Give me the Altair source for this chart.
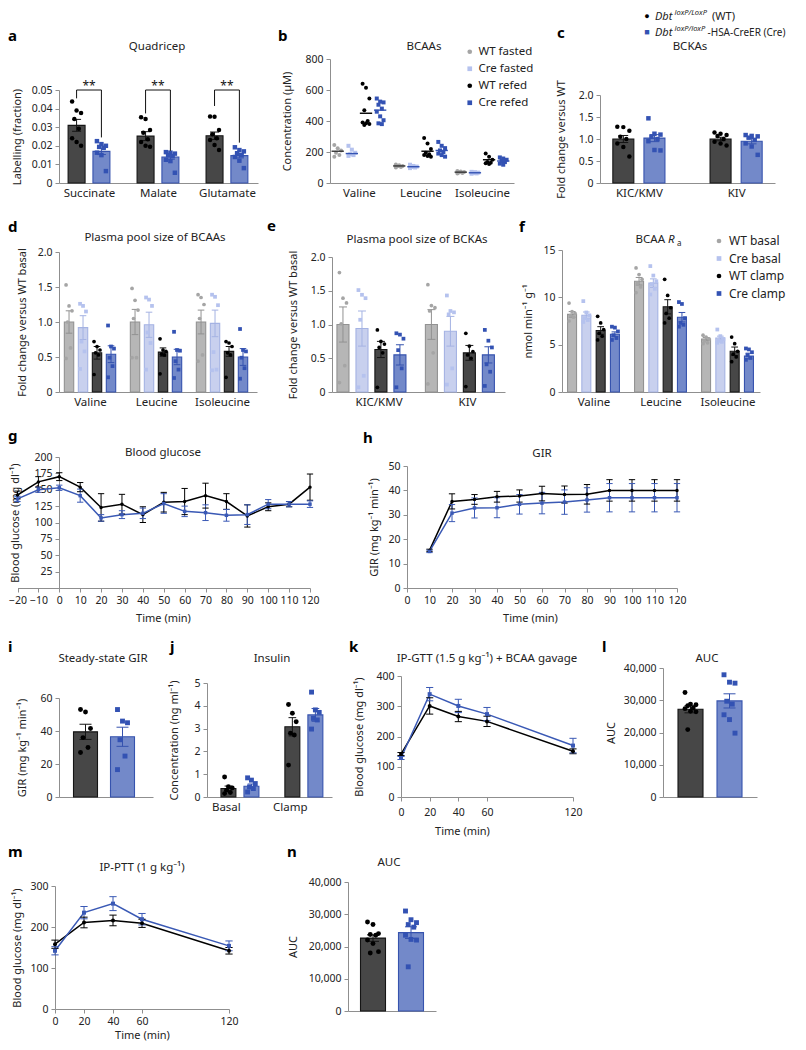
import altair as alt
import pandas as pd

# ===================== DATA =====================
# a  Quadricep labelling
a_categories = ["Succinate", "Malate", "Glutamate"]
a_wt_mean = [0.0310, 0.0252, 0.0254]
a_wt_sem = [0.0032, 0.0024, 0.0020]
a_cre_mean = [0.0170, 0.0140, 0.0147]
a_cre_sem = [0.0017, 0.0012, 0.0012]
a_wt_points = [
    [0.0438, 0.0390, 0.0376, 0.0344, 0.0292, 0.0240, 0.0221, 0.0200],
    [0.0353, 0.0344, 0.0285, 0.0270, 0.0235, 0.0220, 0.0200, 0.0195],
    [0.0357, 0.0356, 0.0285, 0.0262, 0.0240, 0.0231, 0.0204, 0.0177],
]
a_cre_points = [
    [0.0225, 0.0209, 0.0200, 0.0194, 0.0189, 0.0163, 0.0150, 0.0064],
    [0.0166, 0.0163, 0.0158, 0.0150, 0.0145, 0.0125, 0.0118, 0.0055],
    [0.0192, 0.0177, 0.0170, 0.0160, 0.0150, 0.0140, 0.0120, 0.0080],
]
a_bracket_top = [0.050, 0.050, 0.050]
a_bracket_left = [0.0455, 0.0374, 0.0414]
a_bracket_right = [0.0245, 0.0173, 0.0217]
a_stars = ["**", "**", "**"]

# b  BCAAs
b_categories = ["Valine", "Leucine", "Isoleucine"]
b_groups = ["WT fasted", "Cre fasted", "WT refed", "Cre refed"]
b_means = [[205, 110, 70], [190, 105, 66], [450, 205, 150], [470, 210, 142]]
b_points = [
    [[245, 225, 210, 195, 180, 170], [120, 115, 110, 108, 104, 100], [78, 75, 71, 68, 65, 62]],
    [[240, 215, 195, 185, 180, 175], [118, 110, 106, 103, 100, 96], [72, 70, 67, 64, 62, 60]],
    [[640, 615, 545, 470, 400, 390, 385, 380, 375], [290, 255, 220, 195, 185, 180, 175, 170],
     [190, 170, 150, 135, 128, 122, 130]],
    [[545, 525, 520, 505, 480, 460, 430, 405, 385, 380], [265, 240, 225, 210, 200, 190, 180, 170],
     [165, 158, 150, 142, 135, 125, 118]],
]

# c  BCKAs
c_categories = ["KIC/KMV", "KIV"]
c_wt_mean = [1.00, 1.00]
c_wt_sem = [0.08, 0.04]
c_cre_mean = [1.02, 0.95]
c_cre_sem = [0.08, 0.06]
c_wt_points = [[1.28, 1.27, 1.19, 1.05, 1.00, 0.90, 0.82, 0.60],
               [1.15, 1.12, 1.09, 1.07, 1.00, 0.94, 0.90, 0.85]]
c_cre_points = [[1.47, 1.12, 1.10, 1.05, 1.00, 0.95, 0.75, 0.74],
                [1.09, 1.07, 1.06, 1.03, 0.98, 0.90, 0.83, 0.64]]

# d  Plasma pool size of BCAAs
d_categories = ["Valine", "Leucine", "Isoleucine"]
d_groups = ["WT basal", "Cre basal", "WT clamp", "Cre clamp"]
d_means = [[1.00, 1.00, 1.00], [0.92, 0.96, 0.98], [0.56, 0.57, 0.58], [0.54, 0.50, 0.50]]
d_sems = [[0.16, 0.18, 0.17], [0.17, 0.18, 0.19], [0.09, 0.06, 0.07], [0.12, 0.11, 0.12]]
d_points = [
    [[1.53, 1.23, 1.16, 1.00, 0.63, 0.48], [1.48, 1.31, 1.17, 1.05, 0.49, 0.49], [1.39, 1.35, 1.25, 1.05, 0.53, 0.44]],
    [[1.26, 1.23, 1.15, 0.72, 0.58, 0.33], [1.35, 1.32, 1.23, 0.85, 0.70, 0.32], [1.39, 1.36, 1.24, 0.57, 0.32, 0.31]],
    [[0.72, 0.65, 0.60, 0.56, 0.53, 0.25], [0.76, 0.60, 0.58, 0.54, 0.53, 0.26], [0.72, 0.70, 0.65, 0.56, 0.53, 0.21]],
    [[0.95, 0.65, 0.62, 0.49, 0.37, 0.21], [0.86, 0.60, 0.59, 0.44, 0.32, 0.20], [0.90, 0.60, 0.58, 0.49, 0.34, 0.19]],
]

# e  Plasma pool size of BCKAs
e_categories = ["KIC/KMV", "KIV"]
e_means = [[1.00, 1.00], [0.94, 0.90], [0.63, 0.58], [0.55, 0.55]]
e_sems = [[0.26, 0.22], [0.26, 0.22], [0.12, 0.11], [0.15, 0.12]]
e_points = [
    [[1.77, 1.39, 1.32, 1.01, 0.39, 0.14], [1.59, 1.28, 1.25, 1.20, 0.58, 0.12]],
    [[1.51, 1.44, 1.39, 1.07, 0.24, 0.07], [1.43, 1.20, 1.18, 1.15, 0.35, 0.11]],
    [[0.92, 0.75, 0.71, 0.66, 0.58, 0.07], [0.87, 0.68, 0.60, 0.55, 0.50, 0.08]],
    [[0.87, 0.85, 0.79, 0.62, 0.35, 0.07], [0.92, 0.76, 0.66, 0.41, 0.30, 0.09]],
]

# f  BCAA Ra
f_means = [[8.2, 11.7, 5.6], [8.1, 11.5, 5.7], [6.5, 9.0, 4.3], [6.1, 7.9, 3.8]]
f_sems = [[0.3, 0.4, 0.15], [0.35, 0.45, 0.2], [0.4, 0.75, 0.45], [0.25, 0.5, 0.3]]
f_points = [
    [[9.4, 8.5, 8.3, 8.1, 7.9, 7.5], [13.1, 12.4, 11.9, 11.5, 11.1, 10.5], [6.0, 5.8, 5.6, 5.4, 5.2, 5.1]],
    [[9.6, 8.4, 8.1, 7.8, 7.6, 7.4], [13.3, 12.3, 11.7, 11.4, 10.9, 10.3], [6.6, 5.9, 5.6, 5.4, 5.3, 5.2]],
    [[8.0, 7.3, 6.6, 6.2, 5.9, 5.5], [11.9, 10.2, 8.9, 8.3, 7.8, 7.3], [5.8, 5.1, 4.3, 4.0, 3.7, 3.2]],
    [[6.9, 6.8, 6.4, 6.0, 5.7, 5.5], [9.5, 9.3, 7.8, 7.3, 7.1, 6.9], [4.6, 4.5, 4.2, 3.9, 3.6, 3.4]],
]

# g  Blood glucose (clamp)
g_time = [-20, -10, 0, 10, 20, 30, 40, 50, 60, 70, 80, 90, 100, 110, 120]
g_wt_mean = [142, 162, 170, 154, 123, 128, 112, 131, 132, 141, 132, 110, 124, 128, 154]
g_wt_sem = [6, 8, 6, 7, 21, 15, 12, 15, 20, 19, 12, 17, 6, 4, 20]
g_cre_mean = [136, 150, 153, 141, 107, 112, 114, 129, 117, 115, 111, 112, 128, 128, 128]
g_cre_sem = [4, 4, 4, 10, 5, 6, 8, 15, 8, 12, 9, 15, 7, 4, 5]

# h  GIR
h_time = [10, 20, 30, 40, 50, 60, 70, 80, 90, 100, 110, 120]
h_wt_mean = [15.4, 35.5, 36.3, 37.4, 37.7, 38.7, 38.3, 38.4, 40.0, 40.0, 40.0, 40.0]
h_wt_sem = [0.5, 3.1, 2.0, 2.2, 2.5, 3.0, 3.5, 4.0, 4.4, 4.4, 4.4, 4.4]
h_cre_mean = [15.0, 30.7, 32.8, 32.9, 34.3, 34.8, 35.2, 36.1, 37.0, 37.0, 37.0, 37.0]
h_cre_sem = [0.5, 3.5, 4.1, 4.1, 4.0, 4.4, 5.0, 5.0, 5.8, 5.8, 5.8, 5.8]

# i  Steady-state GIR
i_wt_mean, i_wt_sem = [39.5], [4.6]
i_cre_mean, i_cre_sem = [36.5], [5.8]
i_wt_points = [[53.0, 51.5, 41.5, 36.0, 30.0, 27.0]]
i_cre_points = [[53.0, 46.0, 45.0, 34.7, 24.8, 16.6]]

# j  Insulin
j_categories = ["Basal", "Clamp"]
j_wt_mean, j_wt_sem = [0.37, 3.08], [0.11, 0.40]
j_cre_mean, j_cre_sem = [0.47, 3.60], [0.10, 0.28]
j_wt_points = [[0.88, 0.45, 0.40, 0.30, 0.20, 0.15], [4.06, 3.67, 3.30, 2.80, 2.72, 1.40]]
j_cre_points = [[0.84, 0.74, 0.59, 0.44, 0.37, 0.22], [4.60, 3.82, 3.71, 3.45, 3.38, 2.98]]

# k  IP-GTT + BCAA gavage
k_time = [0, 20, 40, 60, 120]
k_wt_mean, k_wt_sem = [142, 301, 266, 250, 151], [5, 27, 17, 17, 8]
k_cre_mean, k_cre_sem = [129, 340, 301, 274, 170], [5, 22, 22, 22, 24]

# l  AUC (GTT)
l_wt_mean, l_wt_sem = [27200], [1100]
l_cre_mean, l_cre_sem = [29800], [2200]
l_wt_points = [[32400, 28800, 28600, 28300, 27600, 27400, 26600, 26400, 20900]]
l_cre_points = [[37900, 35600, 35300, 29700, 28800, 25500, 24000, 19800]]

# m  IP-PTT
m_time = [0, 20, 40, 60, 120]
m_wt_mean, m_wt_sem = [158, 211, 216, 209, 142], [10, 13, 13, 10, 8]
m_cre_mean, m_cre_sem = [142, 235, 257, 219, 154], [10, 15, 17, 14, 12]

# n  AUC (PTT)
n_wt_mean, n_wt_sem = [22600], [1000]
n_cre_mean, n_cre_sem = [24300], [1800]
n_wt_points = [[27600, 26800, 24000, 23700, 23500, 22000, 20900, 18400, 18000]]
n_cre_points = [[31000, 28300, 27400, 26800, 26000, 23500, 22200, 22000, 13700]]

# ===================== STYLE / LAYOUT =====================
W, H = 790, 1034
FONT = "Noto Sans"
INK = "#222222"
AXC = "#8f8f8f"

DARK = ("#474747", "#151515", "#000000", "circle")
BLUE = ("#7389c9", "#3653ae", "#3352b3", "square")
GREY = ("#b6b6b6", "#929292", "#a5a5a5", "circle")
LBLUE = ("#c8d0ee", "#a5b3e3", "#b5c2ee", "square")
STYLE = {"WT": DARK, "Cre": BLUE, "WT fasted": GREY, "Cre fasted": LBLUE,
         "WT refed": DARK, "Cre refed": BLUE, "WT basal": GREY, "Cre basal": LBLUE,
         "WT clamp": DARK, "Cre clamp": BLUE}


def PX(p):
    return max(p, 8) - 8


def PY(p):
    return max(p, 8) - 8


def sc(groups, idx):
    return alt.Scale(domain=list(groups), range=[STYLE[g][idx] for g in groups])


def sci(groups, idx):
    # index-keyed scale (kept apart from the legend-bearing colour scale)
    return alt.Scale(domain=list(range(len(groups))), range=[STYLE[g][idx] for g in groups])


def lin(d, r):
    return alt.Scale(domain=list(d), range=list(r), nice=False, zero=False)


LBL1 = "datum.value == 0 ? '0' : format(datum.value, '.1f')"
LBL2 = "datum.value == 0 ? '0' : format(datum.value, '.2f')"


def bar_panel(cats, groups, means, sems, points, *, xr, xd, yr, yd, yticks, ytitle, ytp,
              offsets, halfw, cap, jit, psize=20, ylabel=None, yfmt=None, bars=True,
              cat_labels=True, label_shift=0.0, legend=None, mean_half=None, mean_colors=None,
              extra=None):
    xs = lin(xd, (PX(xr[0]), PX(xr[1])))
    ys = lin(yd, (PY(yr[0]), PY(yr[1])))
    summ = pd.DataFrame([{"g": g, "gi": gi, "ci": ci, "m": means[gi][ci],
                          "s": (sems[gi][ci] if sems else 0.0)}
                         for gi, g in enumerate(groups) for ci in range(len(cats))])
    pts = pd.DataFrame([{"g": g, "gi": gi, "ci": ci, "k": k, "v": v}
                        for gi, g in enumerate(groups) for ci in range(len(cats))
                        for k, v in enumerate(sorted(points[gi][ci], reverse=True))])
    pos = "datum.ci + 0.5 + [" + ",".join(str(o) for o in offsets) + "][datum.gi]"
    xa = dict(orient="bottom", offset=PY(yr[0]) - H,
              values=[i + 0.5 + label_shift for i in range(len(cats))],
              ticks=False, title=None, labelFontSize=11.5, labelPadding=4)
    if cat_labels:
        xa["labelExpr"] = "[" + ",".join("'" + c + "'" for c in cats) + "][floor(datum.value)]"
    else:
        xa["labels"] = False
    ya = dict(orient="left", offset=-PX(xr[0]), values=yticks, title=ytitle, titlePadding=ytp)
    if ylabel:
        ya["labelExpr"] = ylabel
    if yfmt:
        ya["format"] = yfmt
    XA, YA = alt.Axis(**xa), alt.Axis(**ya)

    def X(f):
        return alt.X(f, scale=xs, axis=XA)

    def Y(f):
        return alt.Y(f, scale=ys, axis=YA)

    fill_s, edge_s = sci(groups, 0), sci(groups, 1)
    pt_s, shp_s = sc(groups, 2), sc(groups, 3)
    layers = []
    s_base = alt.Chart(summ).transform_calculate(pos=pos)
    if bars:
        layers.append(
            s_base.transform_calculate(x1=f"datum.pos - {halfw}", x2=f"datum.pos + {halfw}")
            .mark_rect(strokeWidth=1.1)
            .encode(x=X("x1:Q"), x2=alt.X2("x2"), y=Y("m:Q"), y2=alt.datum(0),
                    fill=alt.Fill("gi:N", scale=fill_s, legend=None),
                    stroke=alt.Stroke("gi:N", scale=edge_s, legend=None)))
    if sems:
        eb = s_base.transform_calculate(lo="datum.m - datum.s", hi="datum.m + datum.s")
        layers.append(
            eb.mark_rule(strokeWidth=1)
            .encode(x=X("pos:Q"), y=Y("lo:Q"), y2=alt.Y2("hi"),
                    stroke=alt.Stroke("gi:N", scale=edge_s, legend=None)))
        layers.append(
            eb.transform_calculate(c1=f"datum.pos - {cap}", c2=f"datum.pos + {cap}")
            .transform_fold(["lo", "hi"], as_=["end", "yy"])
            .mark_rule(strokeWidth=1)
            .encode(x=X("c1:Q"), x2=alt.X2("c2"), y=Y("yy:Q"),
                    stroke=alt.Stroke("gi:N", scale=edge_s, legend=None)))
    layers.append(
        alt.Chart(pts).transform_calculate(pos=pos)
        .transform_calculate(px=f"datum.pos + ((((datum.k * 7) % 5) - 2) / 2) * {jit}")
        .mark_point(filled=True, size=psize, opacity=1)
        .encode(x=X("px:Q"), y=Y("v:Q"),
                color=alt.Color("g:N", scale=pt_s, legend=legend),
                shape=alt.Shape("g:N", scale=shp_s, legend=legend)))
    if mean_half:
        layers.append(
            s_base.transform_calculate(c1=f"datum.pos - {mean_half}", c2=f"datum.pos + {mean_half}")
            .mark_rule(strokeWidth=1.4)
            .encode(x=X("c1:Q"), x2=alt.X2("c2"), y=Y("m:Q"),
                    stroke=alt.Stroke("gi:N", scale=alt.Scale(domain=list(range(len(groups))),
                                                              range=mean_colors), legend=None)))
    if extra:
        layers += extra(X, Y)
    return alt.layer(*layers)


def a_brackets(X, Y):
    df = pd.DataFrame({"ci": list(range(len(a_categories))), "top": a_bracket_top,
                       "l": a_bracket_left, "r": a_bracket_right, "star": a_stars})
    b = alt.Chart(df).transform_calculate(xl="datum.ci + 0.5 - 0.18", xr="datum.ci + 0.5 + 0.18",
                                          xc="datum.ci + 0.5")
    rl = dict(color="#111111", strokeWidth=1)
    return [
        b.mark_rule(**rl).encode(x=X("xl:Q"), y=Y("l:Q"), y2=alt.Y2("top")),
        b.mark_rule(**rl).encode(x=X("xr:Q"), y=Y("r:Q"), y2=alt.Y2("top")),
        b.mark_rule(**rl).encode(x=X("xl:Q"), x2=alt.X2("xr"), y=Y("top:Q")),
        b.mark_text(fontSize=12, baseline="alphabetic", color="#111111", font=FONT)
        .encode(x=X("xc:Q"), y=Y("top:Q"), text="star:N"),
    ]


def line_panel(times, groups, means, sems, *, xr, xd, xticks, yr, yd, yticks, yaxis_x, ytitle,
               ytp, xtitle, xtitle_x, xtp, xlp, cap, psize=12):
    xs = lin(xd, (PX(xr[0]), PX(xr[1])))
    ys = lin(yd, (PY(yr[0]), PY(yr[1])))
    df = pd.DataFrame([{"g": g, "t": t, "m": means[gi][i], "s": sems[gi][i]}
                       for gi, g in enumerate(groups) for i, t in enumerate(times)])
    col = alt.Scale(domain=list(groups), range=["#000000", "#3a59b5"])
    shp = alt.Scale(domain=list(groups), range=["circle", "square"])
    XA = alt.Axis(orient="bottom", offset=PY(yr[0]) - H, values=xticks, format="d",
                  title=xtitle, titleX=PX(xtitle_x), titlePadding=xtp, labelPadding=xlp)
    YA = alt.Axis(orient="left", offset=-PX(yaxis_x), values=yticks, format="d",
                  title=ytitle, titlePadding=ytp)

    def X(f):
        return alt.X(f, scale=xs, axis=XA)

    def Y(f):
        return alt.Y(f, scale=ys, axis=YA)

    base = alt.Chart(df)
    eb = base.transform_calculate(lo="datum.m - datum.s", hi="datum.m + datum.s")
    C = alt.Color("g:N", scale=col, legend=None)
    return alt.layer(
        base.mark_line(strokeWidth=1.5).encode(x=X("t:Q"), y=Y("m:Q"), color=C),
        eb.mark_rule(strokeWidth=1).encode(x=X("t:Q"), y=Y("lo:Q"), y2=alt.Y2("hi"), color=C),
        eb.transform_calculate(c1=f"datum.t - {cap}", c2=f"datum.t + {cap}")
        .transform_fold(["lo", "hi"], as_=["end", "yy"])
        .mark_rule(strokeWidth=1).encode(x=X("c1:Q"), x2=alt.X2("c2"), y=Y("yy:Q"), color=C),
        base.mark_point(filled=True, size=psize, opacity=1).encode(
            x=X("t:Q"), y=Y("m:Q"), color=C, shape=alt.Shape("g:N", scale=shp, legend=None)),
    )


def txt(s, x, y, size=11.5, weight="normal", style="normal", align="center", color=INK,
        baseline="alphabetic"):
    return alt.Chart(pd.DataFrame({"t": [s]})).mark_text(
        font=FONT, fontSize=size, fontWeight=weight, fontStyle=style, align=align,
        baseline=baseline, color=color).encode(x=alt.value(PX(x)), y=alt.value(PY(y)), text="t:N")


# ===================== PANELS =====================
WTCRE = ["WT", "Cre"]

pa = bar_panel(a_categories, WTCRE, [a_wt_mean, a_cre_mean], [a_wt_sem, a_cre_sem],
               [a_wt_points, a_cre_points], xr=(59, 258), xd=(0.065, 2.95), yr=(183, 90),
               yd=(0, 0.05), yticks=[0, 0.01, 0.02, 0.03, 0.04, 0.05], ylabel=LBL2,
               ytitle="Labelling (fraction)", ytp=9, offsets=[-0.18, 0.18], halfw=0.123,
               cap=0.065, jit=0.065, psize=20, extra=a_brackets)

b_legend = alt.Legend(orient="none", legendX=PX(464), legendY=PY(46), title=None,
                      labelFontSize=11.5, labelColor=INK, labelFont=FONT, symbolSize=22,
                      rowPadding=4, padding=0, labelOffset=3, symbolStrokeWidth=0)
pb = bar_panel(b_categories, b_groups, b_means, None, b_points, xr=(330, 514), xd=(0.03, 3.02),
               yr=(183, 59), yd=(0, 800), yticks=[0, 200, 400, 600, 800], yfmt="d",
               ytitle="Concentration (µM)", ytp=12, offsets=[-0.345, -0.115, 0.115, 0.345],
               halfw=0, cap=0, jit=0.055, psize=16, bars=False, legend=b_legend, mean_half=0.1,
               mean_colors=["#333333", "#3352b3", "#000000", "#3352b3"])

pc = bar_panel(c_categories, WTCRE, [c_wt_mean, c_cre_mean], [c_wt_sem, c_cre_sem],
               [c_wt_points, c_cre_points], xr=(600, 775), xd=(0.1, 1.9), yr=(183, 95),
               yd=(0, 2), yticks=[0, 0.5, 1, 1.5, 2], ylabel=LBL1, ytitle="Fold change versus WT",
               ytp=12, offsets=[-0.16, 0.16], halfw=0.108, cap=0.05, jit=0.062, psize=20)

pd_ = bar_panel(d_categories, d_groups, d_means, d_sems, d_points, xr=(59, 257), xd=(0.03, 3.03),
                yr=(392, 252), yd=(0, 2), yticks=[0, 0.5, 1, 1.5, 2], ylabel=LBL1,
                ytitle="Fold change versus WT basal", ytp=10,
                offsets=[-0.318, -0.106, 0.106, 0.318], halfw=0.071, cap=0.05, jit=0.045, psize=14)

pe = bar_panel(e_categories, d_groups, e_means, e_sems, e_points, xr=(332, 505), xd=(0.054, 2.01),
               yr=(392, 257), yd=(0, 2), yticks=[0, 0.5, 1, 1.5, 2], ylabel=LBL1,
               ytitle="Fold change versus WT basal", ytp=11.5,
               offsets=[-0.322, -0.107, 0.107, 0.322], halfw=0.068, cap=0.045, jit=0.04, psize=14,
               label_shift=0.08)

f_legend = alt.Legend(orient="none", legendX=PX(713), legendY=PY(235), title=None,
                      labelFontSize=12, labelColor=INK, labelFont=FONT, symbolSize=22,
                      rowPadding=5.5, padding=0, labelOffset=4, symbolStrokeWidth=0)
pf = bar_panel(d_categories, d_groups, f_means, f_sems, f_points, xr=(562, 760), xd=(0.03, 2.985),
               yr=(392, 250), yd=(0, 15), yticks=[0, 5, 10, 15], yfmt="d",
               ytitle="nmol min⁻¹ g⁻¹", ytp=9.5, offsets=[-0.32, -0.107, 0.107, 0.32],
               halfw=0.067, cap=0.05, jit=0.045, psize=14, legend=f_legend)

pg = line_panel(g_time, WTCRE, [g_wt_mean, g_cre_mean], [g_wt_sem, g_cre_sem], xr=(17.5, 310),
                xd=(-20, 120), xticks=list(range(-20, 121, 10)), yr=(588, 457), yd=(0, 200),
                yticks=list(range(25, 201, 25)), yaxis_x=59, ytitle="Blood glucose (mg dl⁻¹)",
                ytp=13, xtitle="Time (min)", xtitle_x=163, xtp=7, xlp=3, cap=1.5)

ph = line_panel(h_time, WTCRE, [h_wt_mean, h_cre_mean], [h_wt_sem, h_cre_sem], xr=(407, 677),
                xd=(0, 120), xticks=list(range(0, 121, 10)), yr=(588, 466), yd=(0, 50),
                yticks=list(range(0, 51, 10)), yaxis_x=407, ytitle="GIR (mg kg⁻¹ min⁻¹)",
                ytp=8.5, xtitle="Time (min)", xtitle_x=530, xtp=7, xlp=3, cap=1.4)

pi = bar_panel([""], WTCRE, [i_wt_mean, i_cre_mean], [i_wt_sem, i_cre_sem],
               [i_wt_points, i_cre_points], xr=(59, 153), xd=(0.05, 0.99), yr=(797, 698),
               yd=(0, 60), yticks=[0, 20, 40, 60], yfmt="d", ytitle="GIR (mg kg⁻¹ min⁻¹)",
               ytp=12.5, offsets=[-0.185, 0.185], halfw=0.12, cap=0.06, jit=0.05, psize=24,
               cat_labels=False)

pj = bar_panel(j_categories, WTCRE, [j_wt_mean, j_cre_mean], [j_wt_sem, j_cre_sem],
               [j_wt_points, j_cre_points], xr=(207, 332), xd=(-0.015, 1.94), yr=(797, 683),
               yd=(0, 5), yticks=[0, 1, 2, 3, 4, 5], yfmt="d", ytitle="Concentration (ng ml⁻¹)",
               ytp=14, offsets=[-0.18, 0.18], halfw=0.117, cap=0.06, jit=0.06, psize=24,
               label_shift=-0.22)

pk = line_panel(k_time, WTCRE, [k_wt_mean, k_cre_mean], [k_wt_sem, k_cre_sem], xr=(401, 573),
                xd=(0, 120), xticks=[0, 20, 40, 60, 120], yr=(797, 676), yd=(0, 400),
                yticks=[0, 100, 200, 300, 400], yaxis_x=401, ytitle="Blood glucose (mg dl⁻¹)",
                ytp=11.5, xtitle="Time (min)", xtitle_x=462, xtp=8, xlp=6, cap=2.5, psize=16)

pl = bar_panel([""], WTCRE, [l_wt_mean, l_cre_mean], [l_wt_sem, l_cre_sem],
               [l_wt_points, l_cre_points], xr=(663, 757), xd=(0.03, 0.97), yr=(797, 668),
               yd=(0, 40000), yticks=[0, 10000, 20000, 30000, 40000], yfmt=",d", ytitle="AUC",
               ytp=6.5, offsets=[-0.195, 0.195], halfw=0.125, cap=0.06, jit=0.055, psize=24,
               cat_labels=False)

pm = line_panel(m_time, WTCRE, [m_wt_mean, m_cre_mean], [m_wt_sem, m_cre_sem], xr=(55, 229),
                xd=(0, 120), xticks=[0, 20, 40, 60, 120], yr=(1009, 886), yd=(0, 300),
                yticks=[0, 100, 200, 300], yaxis_x=55, ytitle="Blood glucose (mg dl⁻¹)",
                ytp=7.5, xtitle="Time (min)", xtitle_x=142, xtp=3, xlp=3, cap=2.5, psize=16)

pn = bar_panel([""], WTCRE, [n_wt_mean, n_cre_mean], [n_wt_sem, n_cre_sem],
               [n_wt_points, n_cre_points], xr=(348, 436), xd=(0.06, 0.94), yr=(1011, 882),
               yd=(0, 40000), yticks=[0, 10000, 20000, 30000, 40000], yfmt=",d", ytitle="AUC",
               ytp=9.5, offsets=[-0.19, 0.19], halfw=0.125, cap=0.06, jit=0.055, psize=24,
               cat_labels=False)

# ===================== TEXT: titles, panel letters, top legend =====================
titles = [("Quadricep", 157, 50), ("BCAAs", 424, 49.5), ("BCKAs", 690, 50),
          ("Plasma pool size of BCAAs", 155, 241), ("Plasma pool size of BCKAs", 417, 243),
          ("Blood glucose", 163, 456), ("GIR", 542, 457), ("Steady-state GIR", 103, 662),
          ("Insulin", 272, 662), ("IP-GTT (1.5 g kg⁻¹) + BCAA gavage", 487, 662),
          ("AUC", 707, 662), ("IP-PTT (1 g kg⁻¹)", 142, 871), ("AUC", 389, 866)]
letters = [("a", 8, 41), ("b", 278, 41), ("c", 557, 38), ("d", 8, 232), ("e", 267, 231),
           ("f", 519, 232), ("g", 8, 441), ("h", 363, 443), ("i", 8, 652), ("j", 170, 652),
           ("k", 349, 652), ("l", 602, 652), ("m", 8, 857), ("n", 287, 857)]

texts = [txt(s, x, y) for s, x, y in titles]
texts += [txt(s, x, y, size=15, weight="bold", align="left", color="#000000") for s, x, y in letters]
texts += [
    txt("BCAA", 665, 243, align="right"),
    txt("R", 668, 243, style="italic", align="left"),
    txt("a", 677, 246, size=8, align="left"),
    # top-right genotype legend
    txt("●", 647, 16, size=9, color="#000000", baseline="middle"),
    txt("Dbt", 655, 20, size=11, style="italic", align="left"),
    txt("loxP/LoxP", 674.5, 15, size=7.5, style="italic", align="left"),
    txt("(WT)", 712, 20, size=11, align="left"),
    txt("■", 647, 32, size=9, color="#3352b3", baseline="middle"),
    txt("Dbt", 655, 36, size=11, style="italic", align="left"),
    txt("loxP/loxP", 674.5, 31, size=7.5, style="italic", align="left"),
    txt("-HSA-CreER (Cre)", 707.5, 36, size=10, align="left"),
]

chart = alt.layer(pa, pb, pc, pd_, pe, pf, pg, ph, pi, pj, pk, pl, pm, pn, *texts).resolve_scale(
    x="independent", y="independent", color="independent", fill="independent",
    stroke="independent", shape="independent",
).resolve_axis(x="independent", y="independent").properties(
    width=W, height=H, padding=0, autosize=alt.AutoSizeParams(type="none"),
).configure(font=FONT).configure_view(stroke=None).configure_axis(
    labelFont=FONT, titleFont=FONT, labelFontSize=10.5, titleFontSize=11,
    titleFontWeight="normal", labelColor=INK, titleColor=INK, domainColor=AXC,
    tickColor=AXC, tickSize=4, grid=False, labelPadding=3, labelFlush=False,
    labelOverlap=False, minExtent=0, domainWidth=1, tickWidth=1,
).configure_legend(labelFont=FONT)

chart.save("out.html", embed_options={"renderer": "svg", "actions": False})
